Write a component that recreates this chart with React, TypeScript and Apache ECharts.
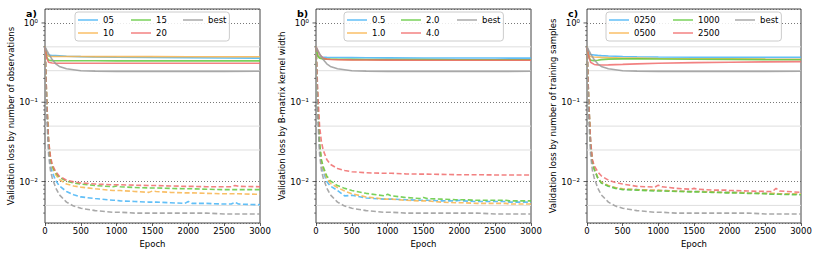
import React, { useEffect, useRef } from "react";
import * as echarts from "echarts";

const FONT = "DejaVu Sans";

// epochs
const EPOCHS_SOLID = [0, 25, 50, 100, 150, 200, 300, 500, 700, 1000, 1500, 2000, 2500, 3000];
const EPOCHS_DASHED = [0, 10, 25, 50, 75, 100, 150, 200, 300, 400, 500, 700, 950, 1000, 1050, 1250, 1450, 1500, 1550, 1750, 1950, 2000, 2050, 2250, 2500, 2600, 2650, 2700, 3000];

// axis ticks
const X_TICK_STEP = 500;
const Y_MIN = 0.003;
const Y_MAX = 1.5;
const Y_MAJOR_TICKS = [0.01, 0.1, 1];
const Y_MINOR_TICKS = [0.004, 0.005, 0.006, 0.007, 0.008, 0.009, 0.02, 0.03, 0.04, 0.05, 0.06, 0.07, 0.08, 0.09, 0.2, 0.3, 0.4, 0.5, 0.6, 0.7, 0.8, 0.9];
const LIGHT_GRID = [0.5, 0.25, 0.05, 0.025, 0.005];

// best (same in every panel)
const BEST_SOLID = [0.5, 0.45, 0.41, 0.345, 0.305, 0.283, 0.264, 0.25, 0.247, 0.245, 0.245, 0.245, 0.245, 0.246];
const BEST_DASHED = [0.5, 0.2, 0.065, 0.022, 0.014, 0.0112, 0.0083, 0.0068, 0.0055, 0.0049, 0.0046, 0.0043, 0.0041, 0.0041, 0.0041, 0.004, 0.004, 0.004, 0.004, 0.004, 0.004, 0.004, 0.004, 0.004, 0.0039, 0.0039, 0.0039, 0.0039, 0.0039];

// panel a: number of observations
const A_LABELS = ["05", "10", "15", "20"];
const A_S05 = [0.5, 0.41, 0.395, 0.389, 0.387, 0.385, 0.381, 0.376, 0.373, 0.37, 0.366, 0.364, 0.362, 0.36];
const A_S10 = [0.5, 0.4, 0.38, 0.377, 0.377, 0.377, 0.377, 0.377, 0.376, 0.376, 0.376, 0.375, 0.375, 0.375];
const A_S15 = [0.5, 0.37, 0.34, 0.334, 0.334, 0.334, 0.334, 0.334, 0.334, 0.333, 0.333, 0.333, 0.333, 0.333];
const A_S20 = [0.5, 0.36, 0.32, 0.312, 0.311, 0.311, 0.311, 0.311, 0.311, 0.31, 0.31, 0.31, 0.31, 0.31];
const A_D05 = [0.5, 0.24, 0.09, 0.028, 0.017, 0.0132, 0.0103, 0.0088, 0.0075, 0.0068, 0.0064, 0.0061, 0.0058, 0.0058, 0.0057, 0.0056, 0.0055, 0.0055, 0.0055, 0.0054, 0.0053, 0.0056, 0.0053, 0.0053, 0.0052, 0.0052, 0.0055, 0.0052, 0.0051];
const A_D10 = [0.5, 0.26, 0.1, 0.031, 0.019, 0.0152, 0.0122, 0.0106, 0.0093, 0.0088, 0.0085, 0.0081, 0.0077, 0.0077, 0.0077, 0.0075, 0.0073, 0.0076, 0.0075, 0.0073, 0.0072, 0.0072, 0.0072, 0.0071, 0.007, 0.007, 0.007, 0.007, 0.0069];
const A_D15 = [0.5, 0.26, 0.1, 0.032, 0.02, 0.0158, 0.0128, 0.0113, 0.0101, 0.0096, 0.0093, 0.0089, 0.0086, 0.0088, 0.0086, 0.0084, 0.0083, 0.0083, 0.0083, 0.0082, 0.0081, 0.0081, 0.0081, 0.008, 0.0079, 0.0079, 0.0079, 0.0079, 0.0079];
const A_D20 = [0.5, 0.27, 0.1, 0.033, 0.021, 0.0165, 0.0133, 0.0117, 0.0104, 0.0099, 0.0096, 0.0093, 0.0091, 0.0091, 0.0091, 0.009, 0.0089, 0.0089, 0.0089, 0.0088, 0.0087, 0.0087, 0.0087, 0.0086, 0.0086, 0.0086, 0.0089, 0.0087, 0.0086];

// panel b: B-matrix kernel width
const B_LABELS = ["0.5", "1.0", "2.0", "4.0"];
const B_S05 = [0.5, 0.39, 0.375, 0.37, 0.368, 0.367, 0.366, 0.365, 0.364, 0.363, 0.362, 0.361, 0.361, 0.36];
const B_S10 = [0.5, 0.39, 0.365, 0.355, 0.35, 0.348, 0.346, 0.344, 0.343, 0.342, 0.341, 0.341, 0.34, 0.34];
const B_S20 = [0.5, 0.38, 0.36, 0.352, 0.35, 0.349, 0.348, 0.347, 0.346, 0.345, 0.345, 0.344, 0.344, 0.344];
const B_S40 = [0.5, 0.45, 0.4, 0.36, 0.35, 0.346, 0.344, 0.342, 0.341, 0.34, 0.339, 0.338, 0.338, 0.338];
const B_D05 = [0.5, 0.24, 0.09, 0.028, 0.017, 0.0135, 0.01, 0.0088, 0.0077, 0.0066, 0.0067, 0.0062, 0.006, 0.006, 0.006, 0.0059, 0.0058, 0.0058, 0.0058, 0.0057, 0.0057, 0.0058, 0.0057, 0.0056, 0.0056, 0.0056, 0.0056, 0.0055, 0.0055];
const B_D10 = [0.5, 0.25, 0.095, 0.03, 0.018, 0.0145, 0.011, 0.0095, 0.0084, 0.0076, 0.007, 0.0064, 0.006, 0.006, 0.006, 0.0058, 0.0057, 0.0057, 0.0057, 0.0055, 0.0054, 0.0054, 0.0054, 0.0053, 0.0053, 0.0053, 0.0053, 0.0052, 0.0052];
const B_D20 = [0.5, 0.26, 0.1, 0.031, 0.019, 0.0155, 0.0118, 0.0102, 0.0089, 0.0082, 0.0077, 0.0071, 0.0066, 0.0069, 0.0066, 0.0063, 0.0061, 0.0063, 0.0061, 0.006, 0.0059, 0.0059, 0.0059, 0.0058, 0.0058, 0.0058, 0.0058, 0.0057, 0.0057];
const B_D40 = [0.5, 0.3, 0.13, 0.05, 0.032, 0.025, 0.019, 0.0165, 0.0146, 0.0138, 0.0133, 0.0129, 0.0127, 0.0127, 0.0127, 0.0125, 0.0124, 0.0124, 0.0124, 0.0123, 0.0122, 0.0122, 0.0122, 0.0122, 0.0121, 0.0121, 0.0121, 0.0121, 0.0121];

// panel c: number of training samples
const C_LABELS = ["0250", "0500", "1000", "2500"];
const C_S0250 = [0.5, 0.41, 0.4, 0.395, 0.39, 0.387, 0.383, 0.378, 0.375, 0.372, 0.37, 0.369, 0.368, 0.368];
const C_S0500 = [0.5, 0.39, 0.375, 0.372, 0.37, 0.368, 0.365, 0.362, 0.36, 0.357, 0.354, 0.352, 0.35, 0.349];
const C_S1000 = [0.5, 0.37, 0.34, 0.333, 0.338, 0.345, 0.35, 0.352, 0.352, 0.351, 0.349, 0.347, 0.345, 0.344];
const C_S2500 = [0.5, 0.38, 0.32, 0.3, 0.296, 0.295, 0.296, 0.3, 0.305, 0.31, 0.316, 0.32, 0.323, 0.325];
const C_D0250 = [0.5, 0.25, 0.095, 0.03, 0.018, 0.0145, 0.0112, 0.0097, 0.0088, 0.0083, 0.008, 0.0079, 0.0077, 0.0077, 0.0077, 0.0076, 0.0075, 0.0075, 0.0075, 0.0074, 0.0073, 0.0073, 0.0073, 0.0072, 0.0071, 0.007, 0.007, 0.007, 0.0069];
const C_D0500 = [0.5, 0.25, 0.095, 0.03, 0.018, 0.0146, 0.0113, 0.0098, 0.0089, 0.0084, 0.0081, 0.0079, 0.0078, 0.0078, 0.0077, 0.0076, 0.0075, 0.0075, 0.0075, 0.0074, 0.0073, 0.0073, 0.0073, 0.0072, 0.0071, 0.0071, 0.0071, 0.007, 0.007];
const C_D1000 = [0.5, 0.25, 0.095, 0.03, 0.018, 0.0144, 0.0111, 0.0096, 0.0087, 0.0082, 0.0079, 0.0078, 0.0076, 0.0076, 0.0076, 0.0075, 0.0074, 0.0074, 0.0074, 0.0073, 0.0072, 0.0072, 0.0072, 0.0071, 0.007, 0.0069, 0.0069, 0.0069, 0.0068];
const C_D2500 = [0.5, 0.27, 0.1, 0.033, 0.019, 0.016, 0.0133, 0.0118, 0.0104, 0.0097, 0.0093, 0.0087, 0.0085, 0.009, 0.0086, 0.0082, 0.008, 0.0082, 0.008, 0.0078, 0.0078, 0.0077, 0.0077, 0.0076, 0.0075, 0.0075, 0.0082, 0.0076, 0.0073];

const COLORS = ["#45b4f6", "#f8b44c", "#62c93e", "#f06b6b"];
const BEST_COLOR = "#9a9a9a";

const PANELS = [
  {
    letter: "a)",
    yName: "Validation loss by number of observations",
    labels: A_LABELS,
    solid: [A_S05, A_S10, A_S15, A_S20],
    dashed: [A_D05, A_D10, A_D15, A_D20],
    left: 45, width: 215, legendLeft: 75, colW: [25, 24],
  },
  {
    letter: "b)",
    yName: "Validation loss by B-matrix kernel width",
    labels: B_LABELS,
    solid: [B_S05, B_S10, B_S20, B_S40],
    dashed: [B_D05, B_D10, B_D20, B_D40],
    left: 316, width: 215, legendLeft: 344, colW: [26, 28],
  },
  {
    letter: "c)",
    yName: "Validation loss by number of training samples",
    labels: C_LABELS,
    solid: [C_S0250, C_S0500, C_S1000, C_S2500],
    dashed: [C_D0250, C_D0500, C_D1000, C_D2500],
    left: 587, width: 214, legendLeft: 606, colW: [36, 34],
  },
];

const pairs = (xs: number[], ys: number[]) => xs.map((x, i) => [x, ys[i]]);
const SUP: Record<string, string> = { "0": "⁰", "1": "¹", "2": "²", "3": "³", "-": "⁻" };

export default function App() {
  const ref = useRef<HTMLDivElement>(null);
  useEffect(() => {
    if (!ref.current) return;
    const chart = echarts.init(ref.current, null, { renderer: "svg" });
    const grid: any[] = [];
    const xAxis: any[] = [];
    const yAxis: any[] = [];
    const series: any[] = [];
    const legend: any[] = [];
    const graphic: any[] = [];

    PANELS.forEach((p, i) => {
      grid.push({ left: p.left, top: 9, width: p.width, height: 214, show: true, borderColor: "#444", borderWidth: 1, backgroundColor: "transparent" });
      xAxis.push({
        type: "value", gridIndex: i, min: 0, max: 3000, interval: X_TICK_STEP,
        name: "Epoch", nameLocation: "middle", nameGap: 13,
        nameTextStyle: { fontSize: 8.5, color: "#000", fontFamily: FONT },
        axisLine: { show: false },
        axisTick: { show: true, length: 3, lineStyle: { color: "#333", width: 0.8 } },
        axisLabel: { fontSize: 8.5, color: "#000", margin: 3, fontFamily: FONT, formatter: (v: number) => String(v) },
        splitLine: { show: false },
      });
      yAxis.push({
        type: "log", gridIndex: i, min: Y_MIN, max: Y_MAX, logBase: 10,
        name: p.yName, nameLocation: "middle", nameGap: 29,
        nameTextStyle: { fontSize: 8.5, color: "#000", fontFamily: FONT },
        axisLine: { show: false },
        axisTick: { show: false },
        axisLabel: {
          fontSize: 8.5, color: "#000", margin: 7, fontFamily: FONT,
          formatter: (v: number) => {
            const l = Math.log10(v);
            const e = Math.round(l);
            if (Math.abs(l - e) > 1e-6) return "";
            return "10" + String(e).split("").map((c) => SUP[c] || c).join("");
          },
        },
        splitLine: { show: true, lineStyle: { type: [1, 2], color: "#555", width: 0.8 } },
        minorTick: { show: false },
      });

      // decorations: light grid lines and y ticks
      const decor = [
        ...LIGHT_GRID.map((v) => [0, v, 0]),
        ...Y_MAJOR_TICKS.map((v) => [0, v, 1]),
        ...Y_MINOR_TICKS.map((v) => [0, v, 2]),
      ];
      series.push({
        type: "custom", name: "decor" + i, xAxisIndex: i, yAxisIndex: i, z: 1, silent: true,
        data: decor,
        renderItem: (params: any, api: any) => {
          const pt = api.coord([api.value(0), api.value(1)]);
          const kind = api.value(2);
          const cs = params.coordSys;
          if (kind === 0) {
            return { type: "line", shape: { x1: cs.x, y1: pt[1], x2: cs.x + cs.width, y2: pt[1] }, style: { stroke: "#dedede", lineWidth: 1 } };
          }
          const len = kind === 1 ? 3.5 : 2;
          return { type: "line", shape: { x1: cs.x - len, y1: pt[1], x2: cs.x, y2: pt[1] }, style: { stroke: "#333", lineWidth: kind === 1 ? 0.8 : 0.6 } };
        },
      });

      const all = [
        ...p.labels.map((l, k) => ({ name: l, solid: p.solid[k], dashed: p.dashed[k], color: COLORS[k] })),
        { name: "best", solid: BEST_SOLID, dashed: BEST_DASHED, color: BEST_COLOR },
      ];
      all.forEach((s) => {
        series.push({
          type: "line", name: s.name, xAxisIndex: i, yAxisIndex: i, z: 3,
          data: pairs(EPOCHS_SOLID, s.solid), symbol: "none", showSymbol: false,
          lineStyle: { color: s.color, width: 1.6, opacity: 0.85 }, itemStyle: { color: s.color },
          emphasis: { disabled: true }, silent: true,
        });
        series.push({
          type: "line", name: s.name + " validation", xAxisIndex: i, yAxisIndex: i, z: 3,
          data: pairs(EPOCHS_DASHED, s.dashed), symbol: "none", showSymbol: false,
          lineStyle: { color: s.color, width: 1.6, opacity: 0.85, type: [5, 2.5] }, itemStyle: { color: s.color },
          emphasis: { disabled: true }, silent: true,
        });
      });

      legend.push({
        left: p.legendLeft, top: 12, orient: "horizontal",
        data: [
          { name: p.labels[0], textStyle: { width: p.colW[0] } },
          { name: p.labels[2], textStyle: { width: p.colW[1] } },
          { name: "best" },
          "",
          { name: p.labels[1], textStyle: { width: p.colW[0] } },
          { name: p.labels[3], textStyle: { width: p.colW[1] } },
        ],
        icon: "rect",
        itemWidth: 20, itemHeight: 1.5, itemGap: 3, padding: [3, 3, 3, 3],
        itemStyle: { opacity: 0.85 },
        backgroundColor: "rgba(255,255,255,0.85)", borderColor: "#cccccc", borderWidth: 1, borderRadius: 3,
        textStyle: { fontSize: 8.5, color: "#000", lineHeight: 10, fontFamily: FONT },
        selectedMode: false,
      });

      graphic.push({
        type: "text", x: p.left - 19, y: 13.5, z: 10,
        style: { text: p.letter, fontSize: 9.5, fontWeight: "bold", fontFamily: FONT, fill: "#000", verticalAlign: "middle" },
      });
    });

    chart.setOption({
      animation: false,
      textStyle: { fontFamily: FONT },
      grid, xAxis, yAxis, series, legend, graphic,
    });
    return () => chart.dispose();
  }, []);
  return <div ref={ref} style={{ position: "fixed", left: 0, top: 0, width: 822, height: 257, background: "#fff" }} />;
}
